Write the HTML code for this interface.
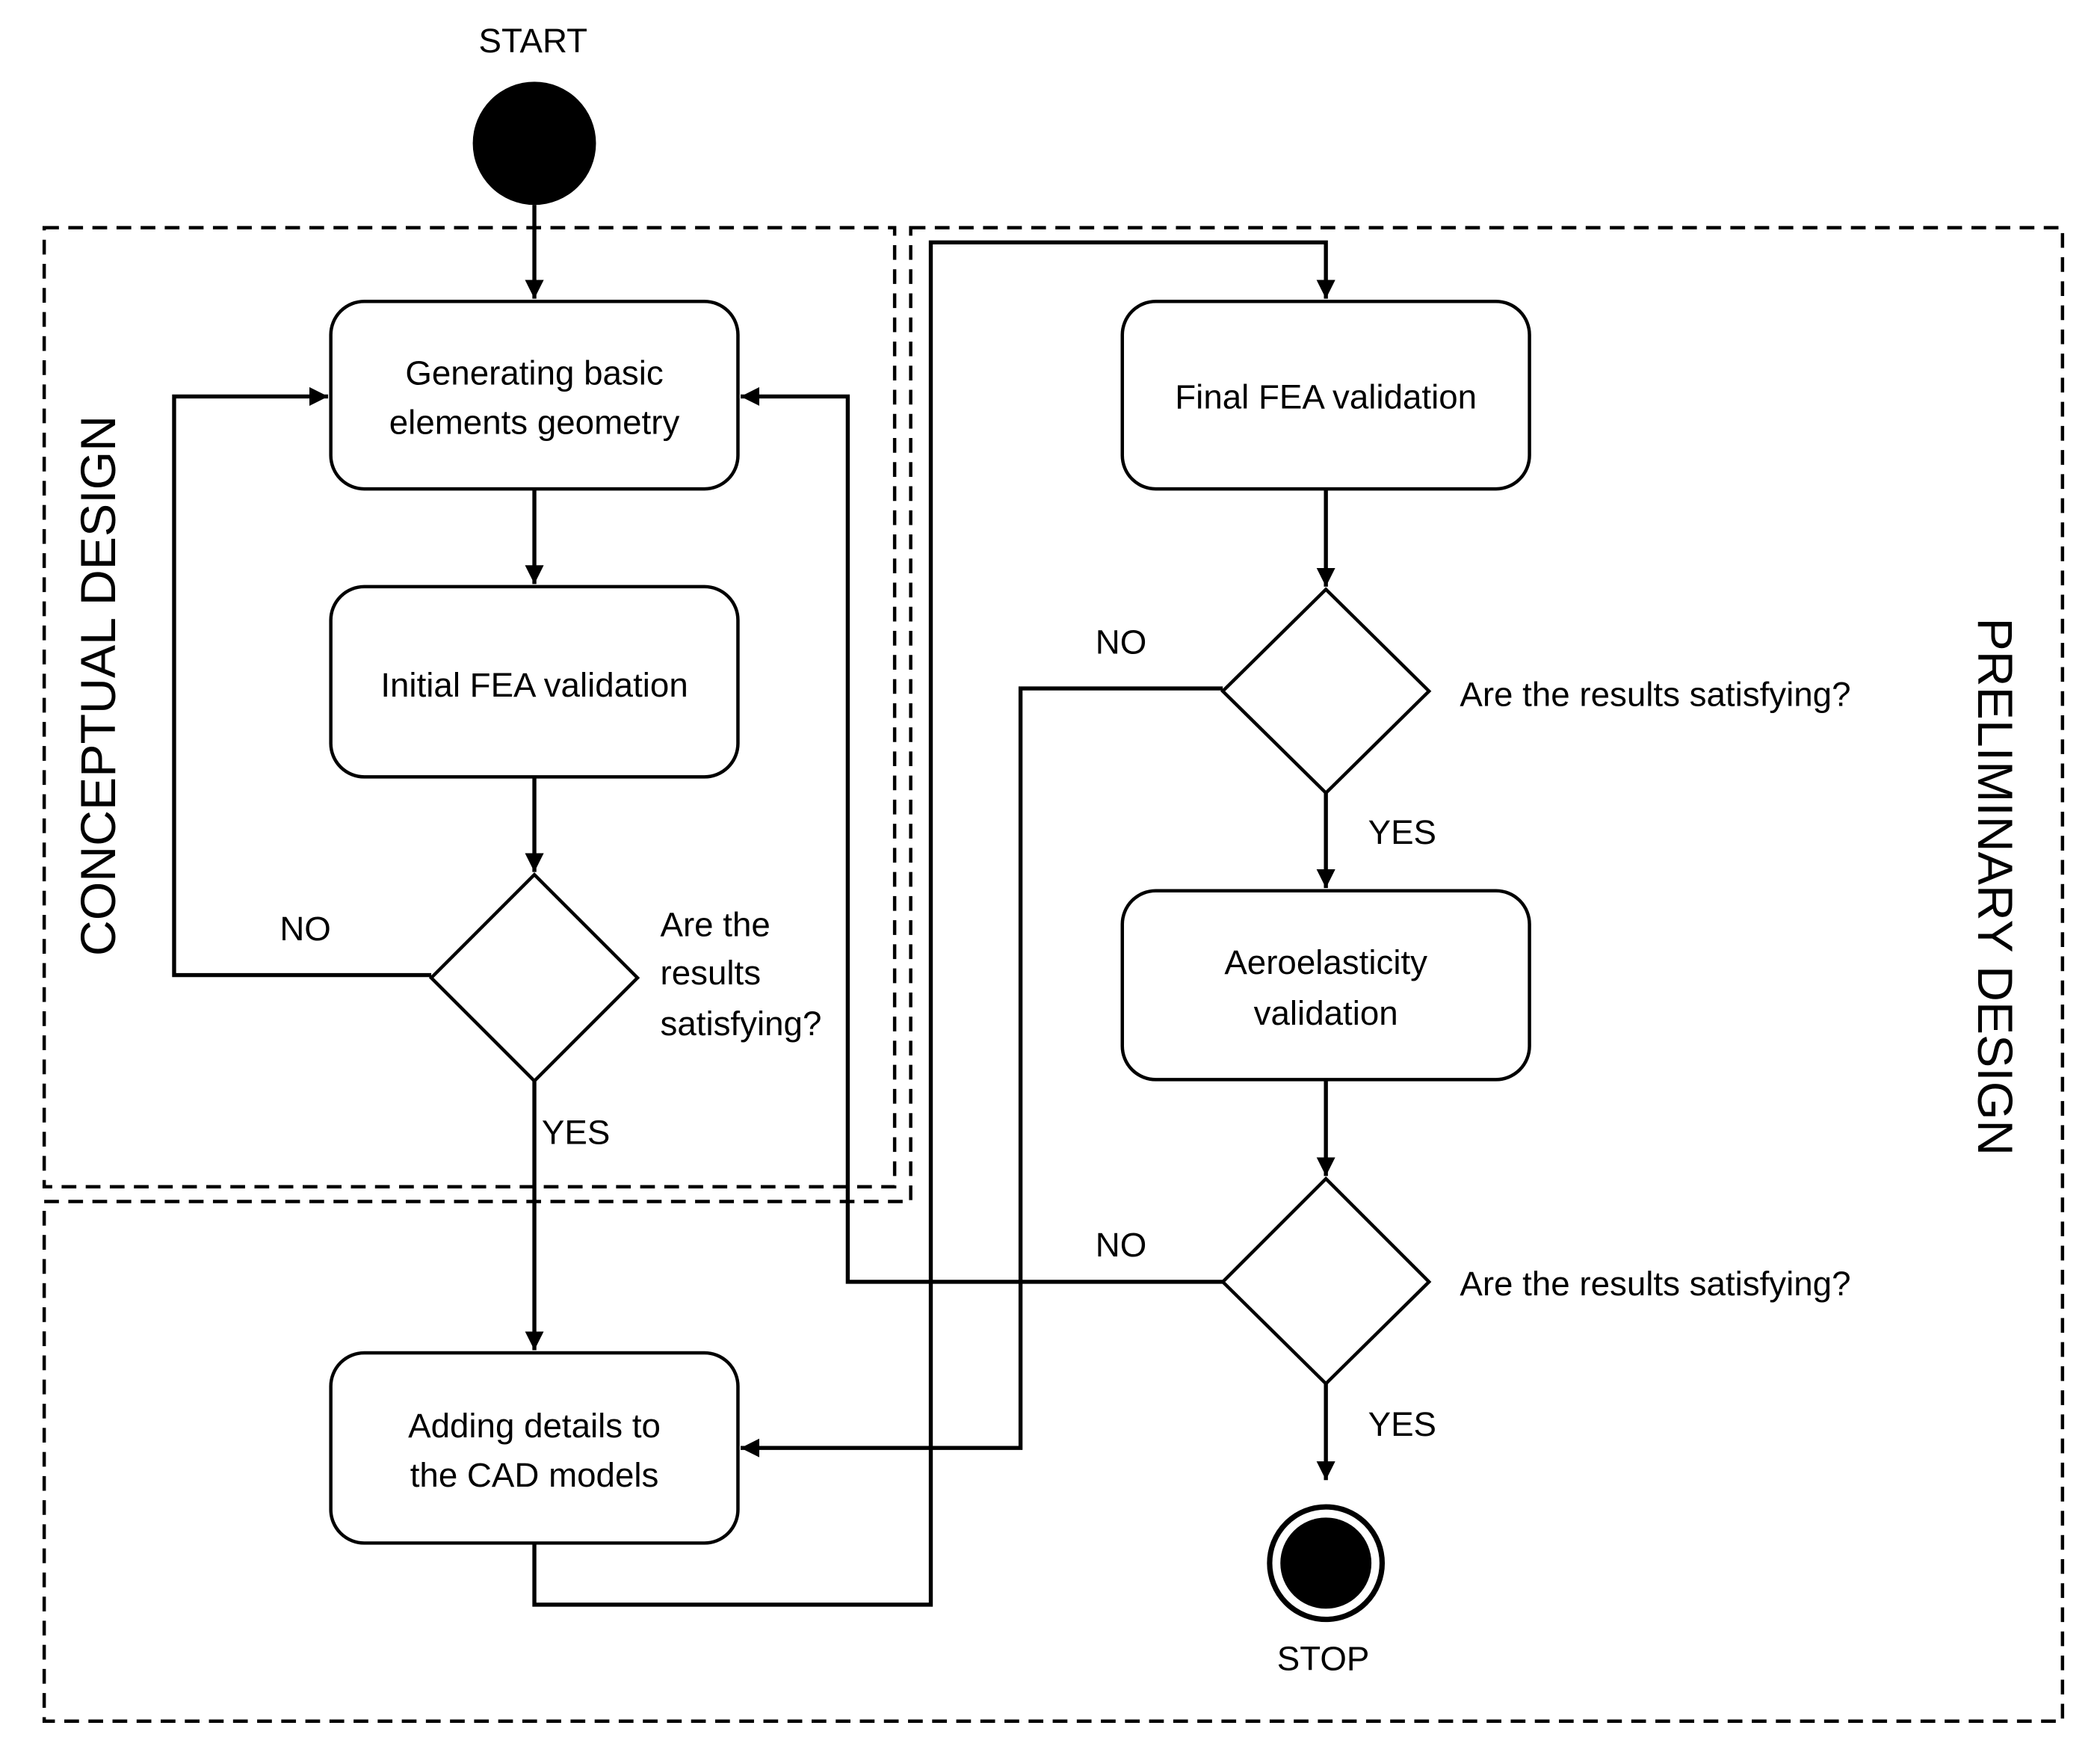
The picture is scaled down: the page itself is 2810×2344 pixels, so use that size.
<!DOCTYPE html>
<html><head><meta charset="utf-8"><style>html,body{margin:0;padding:0;background:#fff}svg{display:block}</style></head>
<body>
<svg width="2810" height="2344" viewBox="0 0 1568 1308" preserveAspectRatio="none" xmlns="http://www.w3.org/2000/svg" font-family="Liberation Sans, sans-serif" font-size="25.5" fill="none" stroke="#000">
<defs>
<marker id="a" viewBox="0 0 10 10" refX="10" refY="5" markerWidth="14" markerHeight="14" markerUnits="userSpaceOnUse" orient="auto"><path d="M0,0 L10,5 L0,10 z" fill="#000" stroke="none"/></marker>
</defs>
<g stroke-width="2.5" stroke-dasharray="11,7">
<rect x="33" y="170" width="635" height="716"/>
<path d="M680,170 L1540,170 L1540,1285 L33,1285 L33,897 L680,897 Z"/>
</g>
<circle cx="399" cy="107" r="46" fill="#000" stroke="none"/>
<g stroke-width="2.5">
<rect x="247" y="225" width="304" height="140" rx="25"/>
<rect x="247" y="438" width="304" height="142" rx="25"/>
<rect x="247" y="1010" width="304" height="142" rx="25"/>
<rect x="838" y="225" width="304" height="140" rx="25"/>
<rect x="838" y="665" width="304" height="141" rx="25"/>
<path d="M399,653 L476,730 L399,807 L322,730 Z"/>
<path d="M990,440 L1067,516 L990,592 L913,516 Z"/>
<path d="M990,880 L1067,957 L990,1033 L913,957 Z"/>
</g>
<g stroke-width="3" marker-end="url(#a)">
<path d="M399,153 L399,223"/>
<path d="M399,365 L399,436"/>
<path d="M399,580 L399,651"/>
<path d="M322,728 L130,728 L130,296 L245,296"/>
<path d="M399,807 L399,1008"/>
<path d="M399,1152 L399,1198 L695,1198 L695,181 L990,181 L990,223"/>
<path d="M990,365 L990,438"/>
<path d="M913,514 L762,514 L762,1081 L553,1081"/>
<path d="M990,592 L990,663"/>
<path d="M990,806 L990,878"/>
<path d="M913,957 L633,957 L633,296 L553,296"/>
<path d="M990,1033 L990,1105"/>
</g>
<circle cx="990" cy="1167" r="42" stroke-width="4"/>
<circle cx="990" cy="1167" r="34" fill="#000" stroke="none"/>
<g fill="#000" stroke="none" text-anchor="middle">
<text x="398" y="39">START</text>
<text x="399" y="287">Generating basic</text>
<text x="399" y="324">elements geometry</text>
<text x="399" y="520">Initial FEA validation</text>
<text x="399" y="1073">Adding details to</text>
<text x="399" y="1110">the CAD models</text>
<text x="990" y="305">Final FEA validation</text>
<text x="990" y="727">Aeroelasticity</text>
<text x="990" y="765">validation</text>
<text x="228" y="702">NO</text>
<text x="430" y="854">YES</text>
<text x="837" y="488">NO</text>
<text x="1047" y="630">YES</text>
<text x="837" y="938">NO</text>
<text x="1047" y="1072">YES</text>
<text x="988" y="1247">STOP</text>
</g>
<g fill="#000" stroke="none">
<text x="493" y="699">Are the</text>
<text x="493" y="735">results</text>
<text x="493" y="773">satisfying?</text>
<text x="1090" y="527">Are the results satisfying?</text>
<text x="1090" y="967">Are the results satisfying?</text>
<text font-size="37" text-anchor="middle" transform="translate(86,512) rotate(-90)">CONCEPTUAL DESIGN</text>
<text font-size="37" text-anchor="middle" transform="translate(1477,662) rotate(90)">PRELIMINARY DESIGN</text>
</g>
</svg>
</body></html>
